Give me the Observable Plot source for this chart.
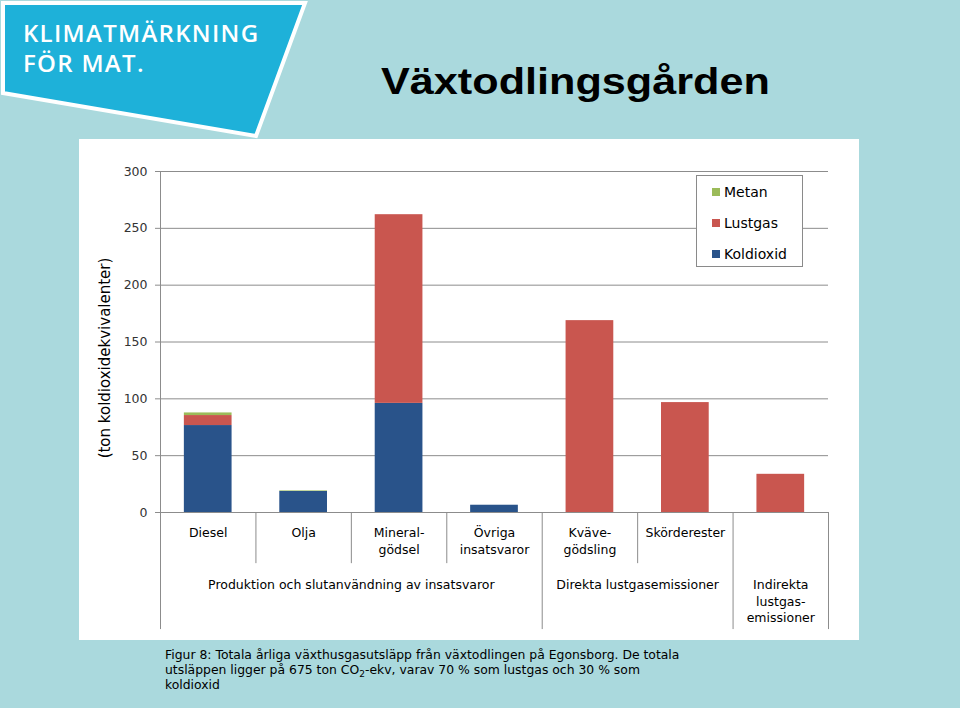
<!DOCTYPE html>
<html>
<head>
<meta charset="utf-8">
<script src="https://cdn.jsdelivr.net/npm/d3@7"></script>
<script src="https://cdn.jsdelivr.net/npm/@observablehq/plot@0.6"></script>
<style>
html,body{margin:0;padding:0;}
body{width:960px;height:708px;background:#aad9dd;position:relative;overflow:hidden;font-family:"DejaVu Sans",sans-serif;}
#logo{position:absolute;left:0;top:0;}
#title{position:absolute;left:381px;top:64px;font:bold 36px/36px "Liberation Sans",Arial,sans-serif;color:#000;transform:scaleX(1.2);transform-origin:0 0;white-space:nowrap;}
#chart{position:absolute;left:79px;top:139px;width:780px;height:501px;background:#fff;}
#legend{position:absolute;left:696px;top:175px;width:107px;height:92px;border:1px solid #8a8a8a;background:#fff;box-sizing:border-box;padding-left:15px;}
#legend .lg-swatches{margin:0;font:14px "DejaVu Sans",sans-serif;color:#000;}
#legend .lg-swatch{height:31px;padding-bottom:0;}
#legend .lg-swatch svg{margin-right:4px;}
#caption{position:absolute;left:165px;top:647px;font:12.4px/15px "DejaVu Sans",sans-serif;color:#000;white-space:nowrap;}
#caption sub{font-size:9px;line-height:0;vertical-align:-3px;}
</style>
</head>
<body>
<svg id="logo" width="320" height="145">
  <polygon points="3,3 305,3 256,136 3,93" fill="#1eb1d9" stroke="#fff" stroke-width="4" stroke-linejoin="miter"/>
  <text x="23" y="42" fill="#fff" font-family="Open Sans" font-weight="600" font-size="24" letter-spacing="1.3">KLIMATMÄRKNING</text>
  <text x="23" y="72" fill="#fff" font-family="Open Sans" font-weight="600" font-size="24" letter-spacing="1.3">FÖR MAT.</text>
</svg>
<div id="title">Växtodlingsgården</div>
<div id="chart"></div>
<div id="legend"></div>
<div id="caption">Figur 8: Totala årliga växthusgasutsläpp från växtodlingen på Egonsborg. De totala<br>utsläppen ligger på 675 ton CO<sub>2</sub>-ekv, varav 70 % som lustgas och 30 % som<br>koldioxid</div>
<script>
// ---- data ----
const categories = ["Diesel", "Olja", "Mineralgödsel", "Övriga insatsvaror", "Kvävegödsling", "Skörderester", "Indirekta"];
const categoryLabels = ["Diesel", "Olja", "Mineral-\ngödsel", "Övriga\ninsatsvaror", "Kväve-\ngödsling", "Skörderester", ""];
const koldioxid = [76.5, 18.5, 96, 6.4, 0, 0, 0];
const lustgas   = [8.8, 0, 166, 0, 168.8, 96.7, 33.6];
const metan     = [2.3, 0.5, 0, 0, 0, 0, 0];
const seriesNames = ["Koldioxid", "Lustgas", "Metan"];
const seriesColors = ["#29538a", "#c9564f", "#9bbb59"];
const legendOrder = ["Metan", "Lustgas", "Koldioxid"];
const groupLabels = ["Produktion och slutanvändning av insatsvaror", "Direkta lustgasemissioner", "Indirekta\nlustgas-\nemissioner"];
const groupFirst = [0, 4, 6];
const groupLast  = [3, 5, 6];
const yTicks = [0, 50, 100, 150, 200, 250, 300];
const yLabel = "(ton koldioxidekvivalenter)";

// ---- build stacked rows ----
const series = [koldioxid, lustgas, metan];
const rows = [];
categories.forEach((c, i) => {
  let base = 0;
  series.forEach((vals, s) => {
    const v = vals[i];
    if (v > 0) { rows.push({i, cat: c, type: seriesNames[s], y1: base, y2: base + v}); base += v; }
  });
});
const boundaries = d3.range(categories.length + 1).map(i => ({
  i, long: i === 0 || i === categories.length || groupFirst.includes(i)
}));

const grey = "#8c8c8c";
const chart = Plot.plot({
  width: 780, height: 501,
  marginLeft: 81, marginRight: 31, marginTop: 32, marginBottom: 128,
  style: {background: "#fff", fontFamily: "DejaVu Sans, sans-serif", fontSize: "12.5px", color: "#333", overflow: "visible"},
  x: {domain: [0, categories.length], axis: null},
  y: {domain: [0, 300], axis: null},
  color: {domain: seriesNames, range: seriesColors},
  marks: [
    Plot.gridY({ticks: yTicks, stroke: grey, strokeOpacity: 1}),
    Plot.axisY({ticks: yTicks, tickSize: 5, tickPadding: 8, stroke: grey, label: null}),
    Plot.ruleX([0], {y1: 0, y2: 300, stroke: grey}),
    Plot.rect(rows, {x1: d => d.i + 0.25, x2: d => d.i + 0.75, y1: "y1", y2: "y2", fill: "type"}),
    Plot.ruleX(boundaries, {x: "i", y1: 0, y2: d => d.long ? -103 : -45, stroke: grey}),
    Plot.text(categories, {x: (d, i) => i + 0.5, y: 0, text: (d, i) => categoryLabels[i], lineAnchor: "top", dy: 13, lineHeight: 1.35, fill: "#000"}),
    Plot.text(groupLabels, {x: (d, i) => (groupFirst[i] + groupLast[i] + 1) / 2, y: 0, text: d => d, lineAnchor: "top", dy: 65, lineHeight: 1.32, fill: "#000"}),
    Plot.text([yLabel], {frameAnchor: "left", textAnchor: "middle", text: d => d, dx: -55, dy: 16, rotate: -90, fontSize: 15, fill: "#000"})
  ]
});
document.getElementById("chart").appendChild(chart);

const legend = Plot.legend({
  color: {domain: legendOrder, range: legendOrder.map(n => seriesColors[seriesNames.indexOf(n)])},
  legend: "swatches", columns: 1, swatchSize: 8, className: "lg"
});
document.getElementById("legend").appendChild(legend);
</script>
</body>
</html>
